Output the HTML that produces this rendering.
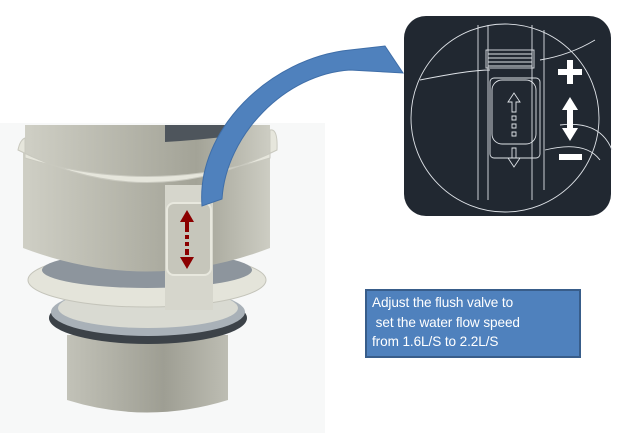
<!DOCTYPE html>
<html><head><meta charset="utf-8"><style>
html,body{margin:0;padding:0;background:#fff;width:622px;height:433px;overflow:hidden;font-family:"Liberation Sans",sans-serif}
.tb{position:absolute;left:365px;top:289px;width:207px;height:63px;background:#4f81bd;border:2px solid #385d8a;color:#fff;font-size:13.6px;line-height:19.5px;padding:2px 0 0 5px;box-sizing:content-box;white-space:pre;letter-spacing:-0.1px}
</style></head><body>
<svg width="622" height="433" style="position:absolute;left:0;top:0">
<defs>
<linearGradient id="g" x1="0" x2="1"><stop offset="0" stop-color="#cfcfc5"/><stop offset=".35" stop-color="#b9b9ae"/><stop offset=".7" stop-color="#a3a397"/><stop offset="1" stop-color="#cdcdc3"/></linearGradient>
<linearGradient id="g2" x1="0" x2="1"><stop offset="0" stop-color="#c2c2b8"/><stop offset=".6" stop-color="#9e9e93"/><stop offset="1" stop-color="#bdbdb3"/></linearGradient>
</defs>
<rect x="0" y="123" width="325" height="310" fill="#f7f8f8"/>
<path d="M67,335 L67,400 Q147,425 228,400 L228,335 Z" fill="url(#g2)"/>
<ellipse cx="148" cy="318" rx="99" ry="26" fill="#3c4248"/>
<ellipse cx="148" cy="312" rx="97" ry="24" fill="#a9b1b8"/>
<ellipse cx="148" cy="308" rx="90" ry="20" fill="#d9dad2"/>
<ellipse cx="147" cy="280" rx="119" ry="27" fill="#e4e4da" stroke="#c4c4ba"/>
<ellipse cx="147" cy="270" rx="105" ry="18" fill="#8d959d"/>
<path d="M23,150 L23,248 Q147,295 270,248 L270,150 Z" fill="url(#g)"/>
<rect x="165" y="185" width="48" height="125" fill="#d6d6cc"/>
<rect x="167" y="203" width="44" height="72" rx="7" fill="#c6c6bb" stroke="#e8e8de" stroke-width="2"/>
<path d="M25,125 L25,160 Q147,190 270,160 L270,125 Z" fill="url(#g)"/>
<path d="M165,125 L240,125 L240,135 Q200,140 165,142 Z" fill="#4e555c"/>
<path d="M18,150 Q20,140 25,138 L25,158 Q147,195 270,158 L270,130 Q278,128 277,150 Q147,215 18,150 Z" fill="#e6e6dc" stroke="#c9c9bf"/>
<g fill="#8b0000"><polygon points="187,210 180,222 194,222"/><rect x="185" y="222" width="4" height="10"/><rect x="185" y="235" width="4" height="4"/><rect x="185" y="242" width="4" height="4"/><rect x="185" y="249" width="4" height="6"/><polygon points="187,269 180,257 194,257"/></g>
<rect x="404" y="16" width="207" height="200" rx="22" fill="#212831"/>
<g stroke="#dfe3e8" fill="none" stroke-width="0.9">
<circle cx="505" cy="118" r="94"/>
<path d="M478,25 L478,200 M488,25 L488,200 M532,25 L532,200 M544,30 L544,190"/>
<path d="M420,80 Q470,70 490,70 M540,60 Q570,55 595,40"/>
<rect x="486" y="50" width="48" height="18"/>
<path d="M488,54h44M488,58h44M488,62h44M488,66h44"/>
<rect x="490" y="78" width="50" height="80" rx="4"/>
<rect x="492" y="80" width="44" height="64" rx="10"/>
<path d="M514,93 l-6,9 h4 v10 h4 v-10 h4 z M512,116h4v4h-4z M512,124h4v4h-4z M512,132h4v4h-4z M514,167 l-6,-9 h4 v-10 h4 v10 h4 z"/>
<path d="M560,125 Q600,120 612,150 M545,150 Q585,140 600,160"/>
</g>
<g fill="#fff"><rect x="558" y="69" width="24" height="6"/><rect x="567" y="60" width="6" height="24"/>
<polygon points="570,97 562,110 567,110 567,128 562,128 570,141 578,128 573,128 573,110 578,110"/>
<rect x="559" y="154" width="23" height="6"/></g>
<path d="M202,206 C196,130 270,58 350,50 L385,46 L403,73 L350,70 C285,74 226,135 222,199 Z" fill="#4f81bd" stroke="#3f6ea8" stroke-width="1"/>
</svg>
<div class="tb">Adjust the flush valve to
 set the water flow speed
from 1.6L/S to 2.2L/S</div>
</body></html>
